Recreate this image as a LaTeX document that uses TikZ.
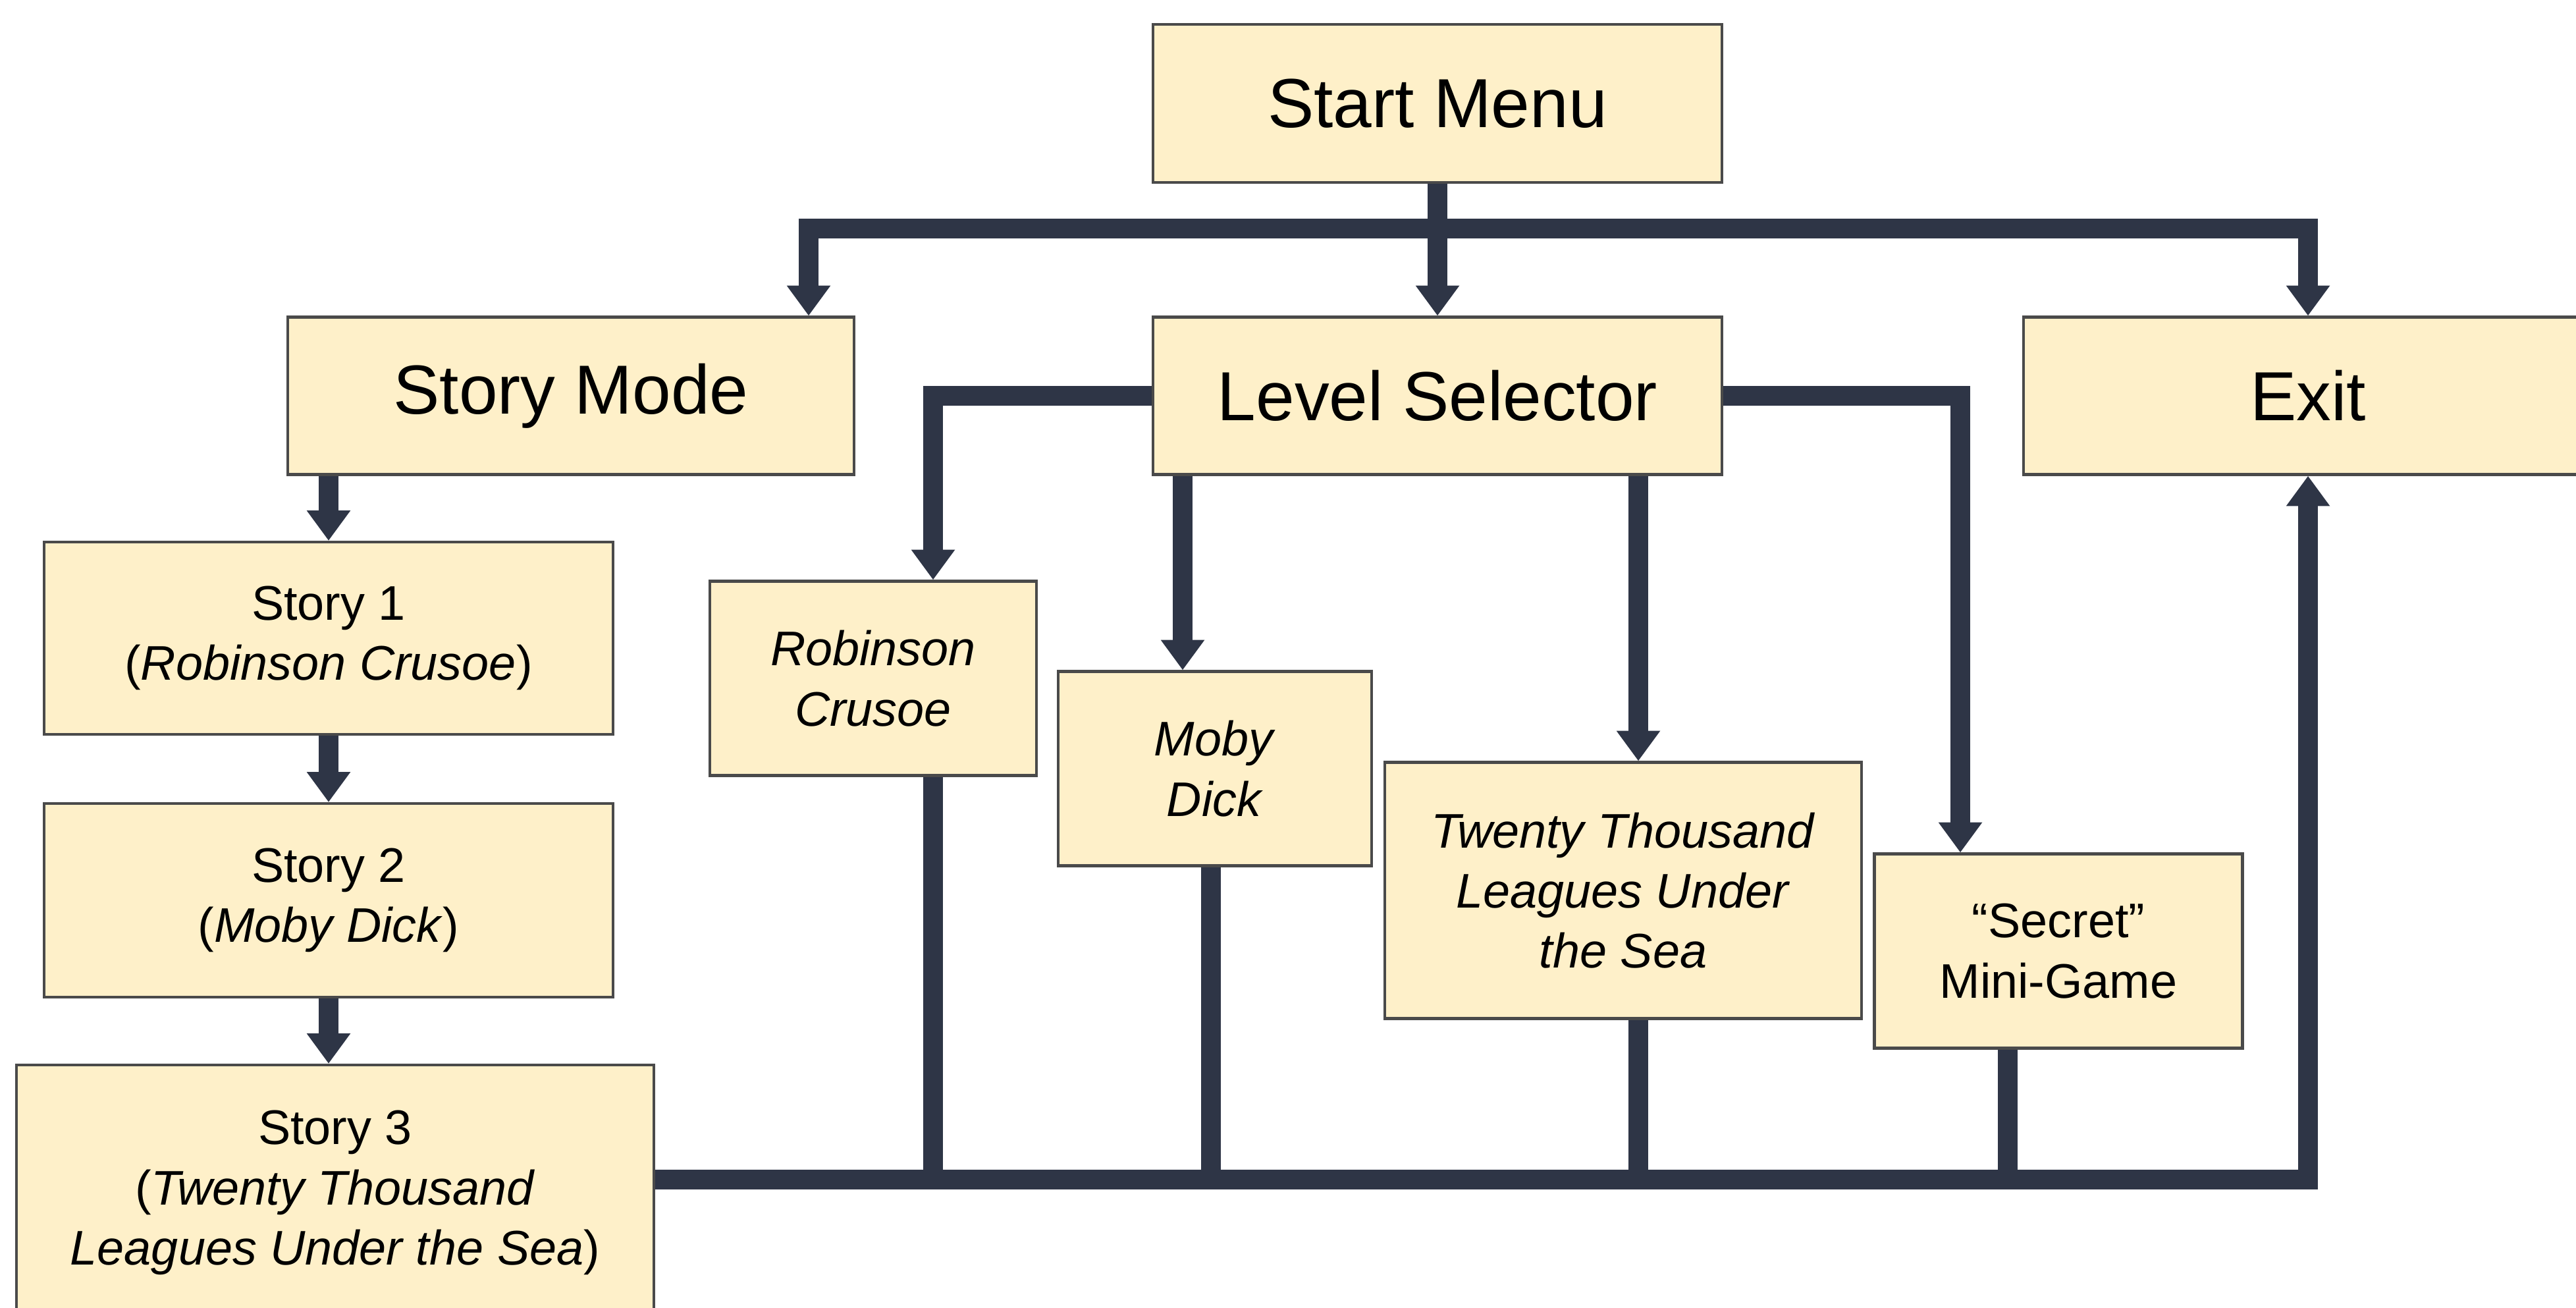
\documentclass[tikz,border=0pt]{standalone}
\usepackage{fontspec}
\setmainfont{Liberation Sans}
\usepackage{tikz}
\usetikzlibrary{arrows.meta}

\definecolor{boxfill}{HTML}{FEF0C9}
\definecolor{boxedge}{HTML}{4A4A4A}
\definecolor{wire}{HTML}{2E3546}

\tikzset{
  menubox/.style={draw=boxedge, line width=1.2pt, fill=boxfill, inner sep=0pt,
    align=center, font=\fontsize{30}{36}\selectfont},
  gamebox/.style={menubox, font=\fontsize{21}{26}\selectfont},
  wireline/.style={draw=wire, line width=8.5pt, line join=miter},
  wirearrow/.style={wireline, -{Triangle[width=18pt,length=13pt]}}
}

\begin{document}
\begin{tikzpicture}
    \useasboundingbox (0,0) rectangle (39.12,-19.85);

    % Top row
    \node[menubox, minimum width=8.64cm, minimum height=2.40cm] (start) at (21.83,-1.57) {Start Menu};
    \node[menubox, minimum width=8.60cm, minimum height=2.39cm] (mode) at (8.67,-6.01) {Story Mode};
    \node[menubox, minimum width=8.64cm, minimum height=2.39cm] (level) at (21.83,-6.01) {Level Selector};
    \node[menubox, minimum width=8.64cm, minimum height=2.39cm] (exit) at (35.05,-6.01) {Exit};

    % Story mode chain
    \node[gamebox, minimum width=8.64cm, minimum height=2.92cm] (s1) at (4.99,-9.69) {Story 1\\(\textit{Robinson Crusoe})};
    \node[gamebox, minimum width=8.64cm, minimum height=2.94cm] (s2) at (4.99,-13.67) {Story 2\\(\textit{Moby Dick})};
    \node[gamebox, minimum width=9.68cm, minimum height=3.88cm] (s3) at (5.09,-18.11) {Story 3\\(\textit{Twenty Thousand}\\\textit{Leagues Under the Sea})};

    % Level selector choices
    \node[gamebox, minimum width=4.96cm, minimum height=2.95cm] (rob) at (13.26,-10.30) {\textit{Robinson}\\\textit{Crusoe}};
    \node[gamebox, minimum width=4.76cm, minimum height=2.95cm] (moby) at (18.45,-11.67) {\textit{Moby}\\\textit{Dick}};
    \node[gamebox, minimum width=7.24cm, minimum height=3.89cm] (twenty) at (24.65,-13.52) {\textit{Twenty Thousand}\\\textit{Leagues Under}\\\textit{the Sea}};
    \node[gamebox, minimum width=5.59cm, minimum height=2.95cm] (secret) at (31.26,-14.44) {“Secret”\\Mini-Game};

    % Wire positions
    \coordinate (busL) at (12.28,-3.47);
    \coordinate (busR) at (35.05,-3.47);
    \coordinate (botbus) at (0,-17.91);
    \coordinate (robX) at (14.17,0);
    \coordinate (mobyIn) at (17.96,0);
    \coordinate (mobyOut) at (18.39,0);
    \coordinate (twX) at (24.88,0);
    \coordinate (secIn) at (29.77,0);
    \coordinate (secOut) at (30.49,0);

    % Start menu to the top row
    \draw[wirearrow] (start.south) -- (level.north);
    \draw[wirearrow] (busR) -- (busL) -- (busL |- mode.north);
    \draw[wirearrow] (busL) -- (busR) -- (exit.north);

    % Story chain
    \draw[wirearrow] (s1.north |- mode.south) -- (s1.north);
    \draw[wirearrow] (s1.south) -- (s2.north);
    \draw[wirearrow] (s2.south) -- (s2.south |- s3.north);

    % Level selector branches
    \draw[wirearrow] (level.west) -| (robX |- rob.north);
    \draw[wirearrow] (mobyIn |- level.south) -- (mobyIn |- moby.north);
    \draw[wirearrow] (twX |- level.south) -- (twX |- twenty.north);
    \draw[wirearrow] (level.east) -| (secIn |- secret.north);

    % Everything returns to exit
    \draw[wireline] (robX |- rob.south) -- (robX |- botbus);
    \draw[wireline] (mobyOut |- moby.south) -- (mobyOut |- botbus);
    \draw[wireline] (twX |- twenty.south) -- (twX |- botbus);
    \draw[wireline] (secOut |- secret.south) -- (secOut |- botbus);
    \draw[wirearrow] (s3.east |- botbus) -| (exit.south);
\end{tikzpicture}
\end{document}
